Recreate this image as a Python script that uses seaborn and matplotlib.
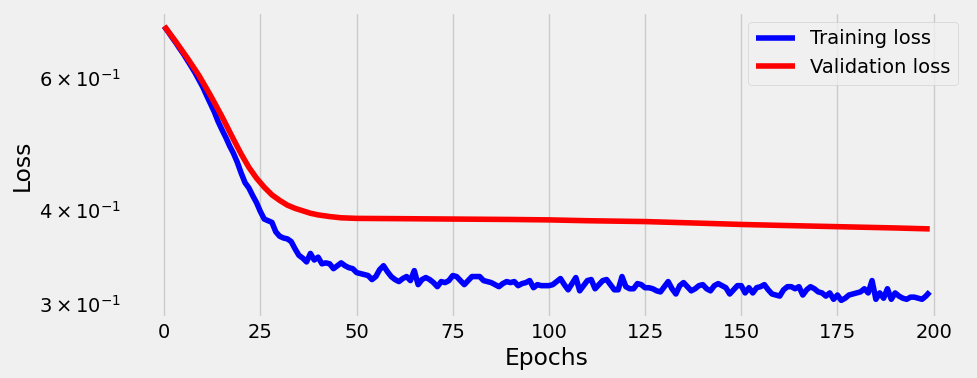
import pandas as pd
import seaborn as sns
import matplotlib.pyplot as plt

# Training loss, one value per epoch (0-199)
train_loss = [
    0.703, 0.692, 0.680, 0.669, 0.657, 0.646, 0.634, 0.622, 0.610, 0.597,
    0.584, 0.569, 0.555, 0.541, 0.525, 0.512, 0.500, 0.487, 0.476, 0.463,
    0.448, 0.435, 0.428, 0.418, 0.409, 0.398, 0.389, 0.387, 0.385, 0.374,
    0.369, 0.367, 0.366, 0.363, 0.355, 0.348, 0.345, 0.341, 0.350, 0.343,
    0.346, 0.339, 0.340, 0.339, 0.334, 0.337, 0.340, 0.337, 0.335, 0.334,
    0.330, 0.329, 0.328, 0.327, 0.323, 0.326, 0.333, 0.337, 0.331, 0.326,
    0.323, 0.321, 0.324, 0.326, 0.322, 0.332, 0.318, 0.323, 0.325, 0.323,
    0.320, 0.316, 0.321, 0.320, 0.322, 0.327, 0.326, 0.322, 0.318, 0.322,
    0.326, 0.326, 0.326, 0.322, 0.321, 0.320, 0.318, 0.316, 0.319, 0.321,
    0.320, 0.321, 0.317, 0.319, 0.320, 0.322, 0.315, 0.318, 0.317, 0.317,
    0.317, 0.318, 0.321, 0.324, 0.318, 0.313, 0.319, 0.325, 0.312, 0.317,
    0.322, 0.323, 0.314, 0.318, 0.322, 0.323, 0.318, 0.313, 0.313, 0.326,
    0.316, 0.314, 0.314, 0.319, 0.318, 0.315, 0.315, 0.314, 0.312, 0.311,
    0.316, 0.321, 0.314, 0.309, 0.317, 0.320, 0.316, 0.312, 0.314, 0.317,
    0.318, 0.314, 0.312, 0.317, 0.319, 0.317, 0.315, 0.309, 0.313, 0.317,
    0.317, 0.310, 0.315, 0.310, 0.315, 0.316, 0.318, 0.313, 0.309, 0.308,
    0.307, 0.313, 0.316, 0.316, 0.314, 0.316, 0.308, 0.313, 0.316, 0.314,
    0.311, 0.310, 0.307, 0.310, 0.304, 0.308, 0.303, 0.305, 0.308, 0.309,
    0.310, 0.311, 0.314, 0.310, 0.322, 0.304, 0.310, 0.305, 0.314, 0.304,
    0.310, 0.307, 0.305, 0.304, 0.306, 0.306, 0.305, 0.304, 0.307, 0.311,
]
train_epochs = list(range(len(train_loss)))

# Validation loss is smooth, so read at fewer epochs
val_epochs = [0, 3, 6, 9, 12, 15, 18, 20, 22, 24, 26, 28, 30, 32, 34, 36,
              38, 40, 43, 46, 50, 60, 75, 90, 100, 110, 125, 140, 150, 160,
              175, 190, 199]
val_loss = [0.704, 0.671, 0.638, 0.605, 0.569, 0.533, 0.497, 0.475, 0.456,
            0.441, 0.429, 0.419, 0.412, 0.406, 0.402, 0.399, 0.396, 0.394,
            0.392, 0.3905, 0.3898, 0.3895, 0.389, 0.3885, 0.388, 0.387,
            0.386, 0.384, 0.3826, 0.3815, 0.380, 0.3785, 0.3774]

train_df = pd.DataFrame({'Epoch': train_epochs, 'Loss': train_loss})
val_df = pd.DataFrame({'Epoch': val_epochs, 'Loss': val_loss})

plt.style.use('fivethirtyeight')
fig, ax = plt.subplots(figsize=(9.78, 3.78), dpi=100)
fig.subplots_adjust(left=0.1288, right=0.9898, top=0.9683, bottom=0.1587)

sns.lineplot(data=train_df, x='Epoch', y='Loss', color='blue', label='Training loss', ax=ax)
sns.lineplot(data=val_df, x='Epoch', y='Loss', color='red', label='Validation loss', ax=ax)

ax.set_yscale('log')
ax.set_ylim(0.287, 0.735)
ax.set_xticks([0, 25, 50, 75, 100, 125, 150, 175, 200])
ax.set_xlabel('Epochs')
ax.set_ylabel('Loss')
ax.legend(loc='upper right')

plt.savefig('out.png', dpi=100)
